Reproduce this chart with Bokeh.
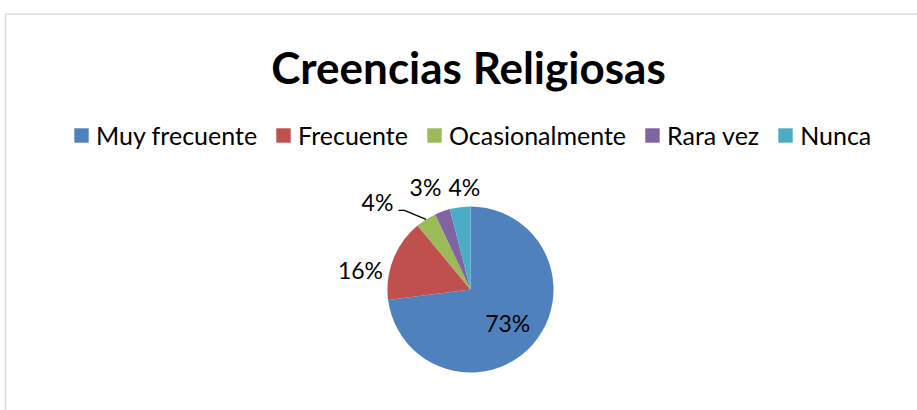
import numpy as np
from bokeh.plotting import figure
from bokeh.models import Range1d, Legend, LegendItem, Label, BoxAnnotation, ColumnDataSource
from bokeh.core.properties import value
from bokeh.embed import file_html
from bokeh.resources import INLINE

# ---- data ----
title_text = "Creencias Religiosas"
categories = ["Muy frecuente", "Frecuente", "Ocasionalmente", "Rara vez", "Nunca"]
percents = [73, 16, 4, 3, 4]

# ---- style ----
colors = ["#4F81BD", "#C0504D", "#9BBB59", "#8064A2", "#4BACC6"]
W, H = 917, 410
FONT = "Lato"
cx, cy, R = 470, 121, 83
# label placement (polar, clockwise from 12 o'clock, in radius units)
lab_ang_deg = [131.7, 279.8, 313.3, 336.3, 356.6]
lab_rf = [0.60, 1.345, 1.54, 1.35, 1.24]
leader_for = 2

frac = np.array(percents, dtype=float) / sum(percents)
cum = np.concatenate([[0.0], np.cumsum(frac)])
start = np.pi / 2 - 2 * np.pi * cum[:-1]
end = np.pi / 2 - 2 * np.pi * cum[1:]

src = ColumnDataSource(dict(cat=categories, pct=percents, start=start, end=end, color=colors))

p = figure(width=W, height=H, x_range=Range1d(0, W), y_range=Range1d(0, H),
           x_axis_type=None, y_axis_type=None, output_backend="svg",
           toolbar_location=None, min_border=0)
p.outline_line_color = None
p.background_fill_color = "white"
p.border_fill_color = "white"

wr = p.wedge(x=cx, y=cy, radius=R, start_angle="start", end_angle="end",
             direction="clock", fill_color="color", line_color=None, source=src)

# data labels
la = np.deg2rad(lab_ang_deg)
lx = cx + np.array(lab_rf) * R * np.sin(la)
ly = cy + np.array(lab_rf) * R * np.cos(la)
p.text(x=lx, y=ly, text=[f"{v}%" for v in percents], text_align="center",
       text_baseline="middle", text_font=value(FONT), text_font_size="23px",
       text_color="black")

# leader line for the small green slice
mid = np.pi * (cum[leader_for] + cum[leader_for + 1])
ex, ey = cx + R * np.sin(mid), cy + R * np.cos(mid)
p.line(x=[lx[leader_for] + 21, lx[leader_for] + 27, ex],
       y=[ly[leader_for] - 8.5, ly[leader_for] - 8.5, ey],
       line_color="black", line_width=1.2)

# title
p.add_layout(Label(x=468, y=344, text=title_text, text_align="center",
                   text_baseline="alphabetic", text_font=FONT,
                   text_font_style="bold", text_font_size="44px",
                   text_color="black"))

# legend
items = [LegendItem(label=c, renderers=[wr], index=i) for i, c in enumerate(categories)]
legend = Legend(items=items, orientation="horizontal", location=(72, 260),
                glyph_width=18, glyph_height=18, label_standoff=6, spacing=17,
                padding=0, margin=0, border_line_color=None,
                background_fill_alpha=0, label_text_font=FONT,
                label_text_font_size="25px", label_text_color="black")
p.add_layout(legend, "center")

# chart frame
p.add_layout(BoxAnnotation(left=5, right=W + 20, top=396.5, bottom=-20,
                           fill_alpha=0, line_color="#8a8a8a", line_width=1.5))

open("out.html", "w").write(file_html(p, INLINE))
